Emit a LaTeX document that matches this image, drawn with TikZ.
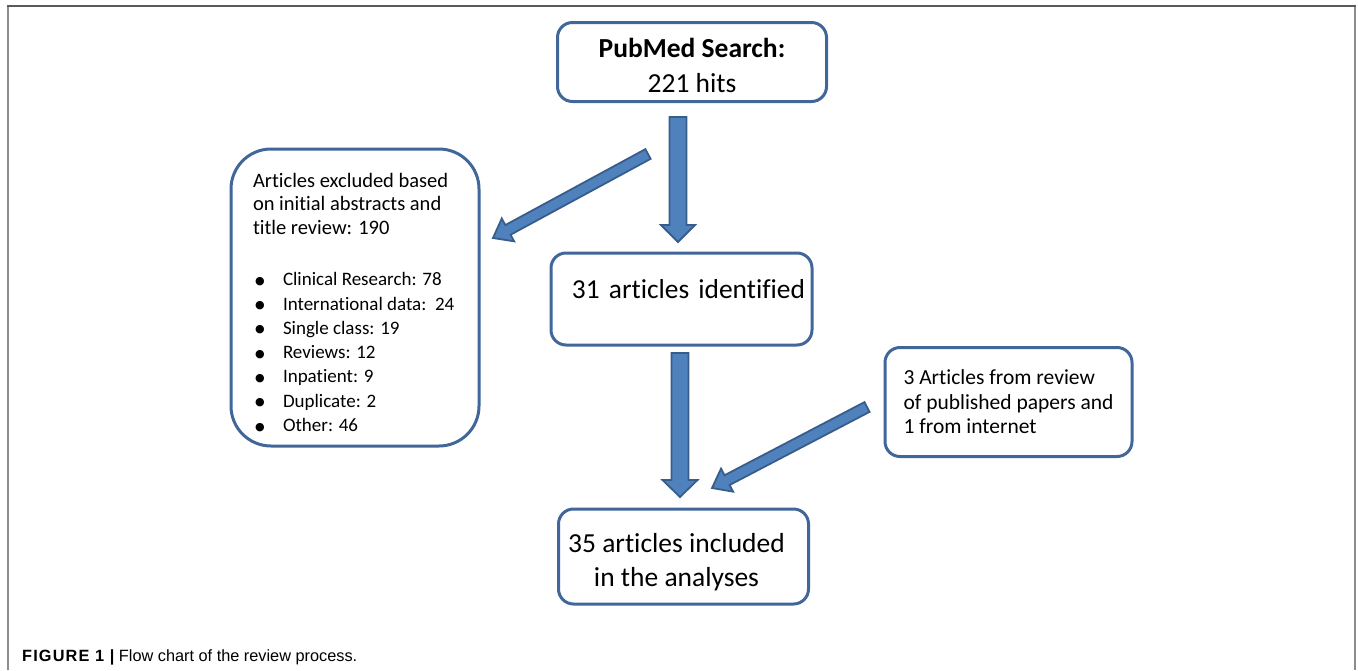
\documentclass[tikz,border=0pt]{standalone}
\usepackage{fontspec}
\setmainfont{Carlito}[Ligatures=NoCommon]
\newfontfamily\captionfont{Liberation Sans}
\newfontfamily\bulletfont{DejaVu Sans}
\usetikzlibrary{calc}

\definecolor{boxline}{HTML}{41679A}
\definecolor{arrowfill}{HTML}{4F81BD}
\definecolor{arrowline}{HTML}{385D8A}
\definecolor{framegray}{HTML}{8C8C8C}
\definecolor{frametop}{HTML}{5A5A5A}

\tikzset{
  box/.style={draw=boxline, line width=3, rounded corners=15, inner sep=0},
  blockarrow/.style={fill=arrowfill, draw=arrowline, line width=1.8, line join=miter},
}

% block arrow: tail, tip, half shaft, half head, head length
\newcommand{\blockarrow}[5]{%
  \coordinate (ba-h) at ($(#2)!#5pt!(#1)$);
  \draw[blockarrow] ($(#1)!#3pt!90:(#2)$) -- ($(ba-h)!#3pt!90:(#2)$)
    -- ($(ba-h)!#4pt!90:(#2)$) -- (#2) -- ($(ba-h)!#4pt!-90:(#2)$)
    -- ($(ba-h)!#3pt!-90:(#2)$) -- ($(#1)!#3pt!-90:(#2)$) -- cycle;
}
\newcommand{\bul}{\hspace*{2pt}\makebox[28pt][l]{\raisebox{1.5pt}{\bulletfont\fontsize{11}{0}\selectfont ●}}}
% lower a box without changing its size
\newcommand{\lowerby}[2]{\raisebox{-#1}[\height][\depth]{#2}}

\begin{document}
\begin{tikzpicture}[x=1pt, y=-1pt]
  \useasboundingbox (0,0) rectangle (1358,670);

  % frame
  \draw[framegray, line width=2] (8,670) -- (8,6);
  \draw[framegray, line width=2] (1355,6) -- (1355,670);
  \draw[frametop, line width=1.6] (7,6) -- (1356,6);

  % boxes
  \node[box, minimum width=269, minimum height=79] (pubmed) at (692,62)
    {\lowerby{3pt}{\parbox{240pt}{\centering\fontsize{27.5}{35}\selectfont
    \textbf{PubMed Search:}\\221 hits}}};

  \node[box, rounded corners=40, minimum width=248, minimum height=297] (excl) at (355,297.5)
    {\lowerby{5pt}{\parbox{204pt}{\raggedright
    {\fontsize{20.5}{23.5}\selectfont Articles excluded based\\
    on initial abstracts and\\
    title review: 190\\[27pt]}%
    {\fontsize{19}{24.3}\selectfont
    \bul Clinical Research: 78\\
    \bul International data:\ \ 24\\
    \bul Single class: 19\\
    \bul Reviews: 12\\
    \bul Inpatient: 9\\
    \bul Duplicate: 2\\
    \bul Other: 46\par}}}};

  \node[box, minimum height=92, text width=247, inner xsep=7, align=right,
    text depth=20, font=\fontsize{27.4}{33}\selectfont] (ident) at (681.5,299)
    {31 articles identified};

  \node[box, minimum width=247, minimum height=109, align=left,
    font=\fontsize{21.5}{24.5}\selectfont] (extra) at (1008.5,402)
    {3 Articles from review\\of published papers and\\1 from internet};

  \node[box, minimum width=250, minimum height=95] (incl) at (683.5,556.5)
    {\lowerby{6pt}{\parbox{236pt}{\centering\fontsize{27.5}{34}\selectfont
    35 articles included\\in the analyses}}\hspace*{14pt}};

  % arrows
  \coordinate (a1tail) at (678,117);
  \coordinate (a1tip) at (678,242);
  \coordinate (a2tail) at (680,353);
  \coordinate (a2tip) at (680,497);
  \coordinate (a3tail) at (648,154);
  \coordinate (a3tip) at (493,238);
  \coordinate (a4tail) at (867,407);
  \coordinate (a4tip) at (712,488);

  \blockarrow{a1tail}{a1tip}{8.5}{17}{17}
  \blockarrow{a2tail}{a2tip}{8.5}{17.5}{17}
  \blockarrow{a3tail}{a3tip}{5.5}{13}{17}
  \blockarrow{a4tail}{a4tip}{5.5}{13}{17}

  % caption
  \node[anchor=base west, inner sep=0, font=\captionfont\fontsize{16.3}{19}\selectfont]
    (caption) at (22,661)
    {{\addfontfeature{LetterSpace=7}\bfseries FIGURE 1 |} Flow chart of the review process.};
\end{tikzpicture}
\end{document}
